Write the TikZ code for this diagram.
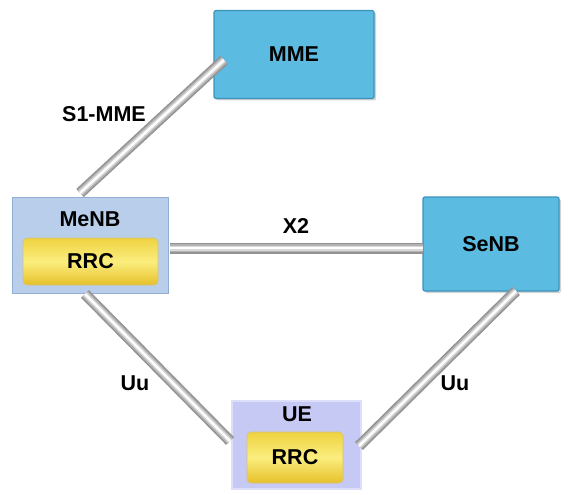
\documentclass[tikz,border=0pt]{standalone}
\usepackage{fontspec}
\setmainfont{Liberation Sans}
\usetikzlibrary{shadows}
\definecolor{bluefill}{HTML}{5BBBE0}
\definecolor{blueedge}{HTML}{3C93BA}
\definecolor{menbfill}{HTML}{B8CEEA}
\definecolor{menbedge}{HTML}{93AED2}
\definecolor{uefill}{HTML}{C6C9F3}
\definecolor{ueedge}{HTML}{DDDFFA}
\definecolor{rrctop}{HTML}{EED240}
\definecolor{rrcmid}{HTML}{FBEE7E}
\definecolor{rrcbot}{HTML}{E6C02A}
\begin{document}
\begin{tikzpicture}[x=1pt,y=-1pt,
  lbl/.style={font=\bfseries\fontsize{21.5}{24}\selectfont, inner sep=0pt},
  bluebox/.style={draw=blueedge, line width=1.2pt, fill=bluefill, rounded corners=2pt,
    drop shadow={shadow xshift=2pt, shadow yshift=-2pt, opacity=0.35}},
  menbbox/.style={draw=menbedge, line width=1pt, fill=menbfill},
  uebox/.style={draw=ueedge, line width=2pt, fill=uefill},
  rrcbox/.style={draw=rrcbot!80!black!60, line width=0.6pt, rounded corners=4pt,
    top color=rrctop, bottom color=rrcbot, middle color=rrcmid},
  pipe/.style={line width=11pt, draw=gray!85, line cap=butt,
    postaction={draw=gray!60, line width=8pt},
    postaction={draw=gray!30, line width=5pt},
    postaction={draw=white, line width=2.2pt}}
]
\useasboundingbox (0,0) rectangle (571,495);

% boxes
\node[bluebox, minimum width=160pt, minimum height=88pt] (mme) at (294,54.5) {};
\node[menbbox, minimum width=156pt, minimum height=96pt] (menb) at (90,245) {};
\node[bluebox, minimum width=136pt, minimum height=94pt] (senb) at (491,244) {};
\node[uebox, minimum width=129pt, minimum height=88pt] (ue) at (296.5,445) {};

% connector endpoints
\coordinate (s1a) at (80,193);
\coordinate (s1b) at (224,60);
\coordinate (x2a) at (170,248);
\coordinate (x2b) at (423,248);
\coordinate (uula) at (85,294);
\coordinate (uulb) at (230,441);
\coordinate (uura) at (516,291);
\coordinate (uurb) at (359,446);

\draw[pipe] (s1a) -- (s1b);
\draw[pipe] (x2a) -- (x2b);
\draw[pipe] (uula) -- (uulb);
\draw[pipe] (uura) -- (uurb);

% inner boxes
\node[rrcbox, minimum width=135pt, minimum height=47pt] (rrc1) at (90.5,261.5) {};
\node[rrcbox, minimum width=96pt, minimum height=51pt] (rrc2) at (295,457.5) {};

% texts
\node[lbl] (tmme) at (mme) {MME};
\node[lbl] (tsenb) at (senb) {SeNB};
\node[lbl] (tmenb) at (90,219) {MeNB};
\node[lbl] (trrc1) at (rrc1) {RRC};
\node[lbl] (tue) at (297,414) {UE};
\node[lbl] (trrc2) at (rrc2) {RRC};
\node[lbl] (ls1) at (104,114) {S1-MME};
\node[lbl] (lx2) at (296,226) {X2};
\node[lbl] (luul) at (135,383) {Uu};
\node[lbl] (luur) at (455,383) {Uu};
\end{tikzpicture}
\end{document}
